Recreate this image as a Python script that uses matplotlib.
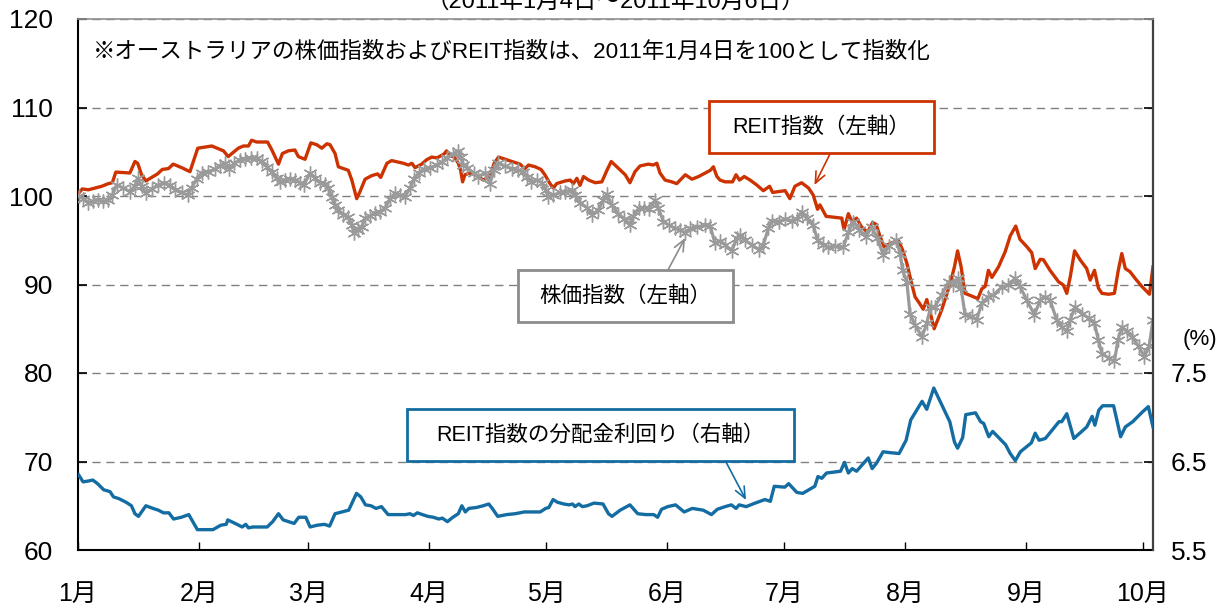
import matplotlib
matplotlib.use("Agg")
import matplotlib.pyplot as plt
from matplotlib.patches import Rectangle

plt.rcParams['font.family'] = ['Liberation Sans', 'Noto Sans CJK JP', 'DejaVu Sans']

# x = days counted from 1 Jan 2011 (position on the chart's date axis)
month_days = [0, 31, 59, 90, 120, 151, 181, 212, 243, 273]
month_labels = ['1月', '2月', '3月', '4月', '5月', '6月', '7月', '8月', '9月', '10月']

# REIT index (left axis, 2011/1/4 = 100)
reit = [
    (0.15, 100.3), (1.1, 100.8), (2.65, 100.7), (4.4, 100.9), (6.1, 101.1), (7.8, 101.4),
    (8.8, 101.5), (9.7, 102.7), (12.9, 102.6), (13.3, 102.6), (14.6, 103.9), (15.3, 103.7),
    (16.3, 102.4), (17.4, 101.7), (18.5, 102.0), (20.4, 102.5), (21.6, 103.0), (23.2, 103.1),
    (24.4, 103.6), (26.6, 103.2), (28.7, 102.75), (30.7, 105.4), (34.3, 105.65), (36.2, 105.3),
    (37.3, 105.1), (38.5, 104.45), (41.1, 105.4), (42.4, 105.65), (43.7, 105.65), (44.5, 106.3),
    (45.8, 106.1), (48.6, 106.1), (49.7, 105.2), (51.4, 103.6), (52.4, 104.8), (53.9, 105.1),
    (55.6, 105.2), (56.5, 104.45), (58.2, 104.15), (59.7, 106.0), (61.2, 105.8), (62.5, 105.4),
    (63.8, 105.9), (64.6, 105.8), (65.9, 104.8), (66.75, 103.3), (69.3, 102.9), (70.2, 101.8),
    (71.45, 99.7), (72.3, 100.5), (73.6, 101.9), (75.3, 102.3), (76.8, 102.5), (77.6, 102.1),
    (79.2, 103.7), (80.4, 104.0), (83.4, 103.7), (84.7, 103.5), (85.6, 103.7), (86.4, 103.2),
    (88.1, 103.6), (89.4, 104.1), (90.7, 104.4), (92.0, 104.3), (92.8, 104.5), (93.85, 104.75),
    (94.5, 105.1), (95.4, 104.5), (96.4, 104.45), (97.5, 103.7), (98.1, 102.9), (98.6, 101.6),
    (99.2, 102.4), (100.5, 102.6), (102.2, 102.3), (103.9, 101.8), (105.6, 102.2), (106.7, 103.7),
    (107.8, 104.4), (109.5, 104.15), (111.2, 103.9), (113.3, 103.6), (114.6, 103.1), (115.5, 103.5),
    (117.2, 103.3), (118.7, 103.0), (119.7, 102.4), (121.0, 101.4), (121.9, 100.9), (122.7, 101.4),
    (124.9, 101.7), (126.2, 101.8), (127.0, 101.4), (127.9, 102.0), (128.7, 101.2), (129.6, 102.2),
    (130.9, 101.8), (132.6, 101.5), (134.3, 101.6), (135.6, 102.9), (136.7, 103.9), (138.6, 103.1),
    (140.3, 102.4), (141.5, 101.5), (142.8, 102.75), (144.1, 103.4), (146.2, 103.6), (147.5, 103.5),
    (148.4, 103.7), (149.2, 102.6), (150.5, 101.8), (152.2, 101.6), (153.5, 101.4), (154.6, 101.9),
    (155.7, 102.4), (157.4, 101.9), (159.1, 102.2), (160.8, 102.6), (162.1, 102.9), (162.9, 103.3),
    (163.8, 102.2), (164.6, 101.8), (165.9, 101.6), (167.8, 101.6), (168.7, 102.4), (169.6, 101.8),
    (170.8, 102.2), (172.3, 101.8), (174.0, 101.25), (175.7, 100.6), (177.3, 101.1), (178.1, 100.4),
    (179.6, 100.5), (181.3, 100.6), (182.5, 99.7), (183.8, 101.1), (185.5, 101.5), (187.3, 100.9),
    (188.5, 100.1), (189.6, 98.5), (190.2, 99.0), (191.8, 97.7), (193.7, 97.6), (195.8, 97.5),
    (196.4, 96.2), (197.5, 98.0), (198.4, 97.1), (199.6, 97.5), (200.9, 96.5), (202.4, 95.9),
    (203.7, 97.0), (204.6, 96.8), (205.5, 95.6), (206.6, 94.3), (208.6, 94.7), (210.3, 95.0),
    (211.4, 93.9), (212.5, 92.4), (213.5, 90.5), (214.6, 88.6), (215.7, 87.9), (216.7, 87.2),
    (217.6, 88.3), (218.5, 86.8), (219.5, 85.0), (221.4, 87.1), (223.6, 90.1), (224.7, 92.0),
    (225.5, 93.8), (226.4, 92.0), (227.4, 89.0), (229.1, 88.7), (230.7, 88.4), (231.7, 89.5),
    (232.6, 89.8), (233.4, 91.6), (234.3, 90.8), (236.0, 92.0), (237.7, 93.7), (239.0, 95.5),
    (240.4, 96.6), (241.5, 95.1), (243.2, 94.3), (244.5, 93.6), (245.4, 91.8), (246.7, 92.85),
    (247.5, 92.8), (249.2, 91.6), (251.4, 90.3), (252.6, 89.95), (253.5, 89.0), (254.4, 90.9),
    (255.5, 93.8), (256.9, 92.8), (258.6, 91.8), (259.5, 90.5), (260.6, 91.6), (261.6, 89.6),
    (262.5, 89.0), (264.2, 88.9), (265.7, 89.0), (266.7, 91.6), (267.6, 93.5), (268.5, 91.8),
    (269.7, 91.45), (271.0, 90.7), (272.7, 89.8), (274.7, 88.9), (275.6, 92.0),
]

# stock index (left axis, 2011/1/4 = 100)
stock = [
    (0.15, 100.0), (1.4, 99.7), (2.65, 99.25), (3.9, 99.4), (5.2, 99.5), (6.5, 99.4),
    (7.8, 99.5), (8.8, 100.1), (9.9, 101.25), (11.6, 100.9), (13.3, 100.5), (14.6, 101.1),
    (15.3, 102.0), (16.3, 101.1), (17.35, 100.3), (18.9, 100.8), (20.6, 101.25), (22.1, 101.5),
    (23.6, 101.25), (24.9, 100.7), (26.6, 100.4), (28.1, 100.1), (29.1, 100.9), (30.4, 101.9),
    (31.7, 102.6), (33.4, 102.75), (35.0, 103.0), (36.4, 103.4), (37.7, 103.7), (38.7, 103.1),
    (40.1, 103.7), (41.5, 104.1), (42.8, 104.15), (44.4, 104.3), (45.8, 104.3), (47.1, 103.9),
    (48.4, 103.3), (49.7, 102.75), (51.0, 102.0), (51.8, 101.6), (53.1, 101.8), (54.4, 101.9),
    (55.6, 101.8), (56.9, 101.5), (57.9, 101.25), (59.5, 102.6), (60.8, 102.0), (62.1, 101.5),
    (63.3, 101.4), (64.2, 100.9), (65.0, 99.9), (65.9, 99.0), (66.75, 98.4), (68.0, 97.9),
    (69.3, 97.6), (70.2, 96.7), (70.8, 95.8), (71.9, 96.2), (72.7, 96.5), (73.6, 97.5),
    (74.9, 97.7), (76.2, 98.1), (77.4, 98.2), (78.7, 98.6), (80.0, 99.7), (81.3, 100.3),
    (82.6, 100.1), (83.8, 99.9), (85.1, 100.9), (86.2, 101.9), (87.3, 102.6), (88.6, 103.0),
    (90.3, 103.2), (92.0, 103.5), (93.3, 103.8), (94.5, 104.3), (96.2, 104.75), (97.5, 105.1),
    (98.1, 104.45), (98.8, 103.5), (99.8, 103.2), (101.4, 102.6), (102.6, 102.2), (104.4, 102.6),
    (105.6, 101.4), (106.7, 102.9), (107.8, 103.7), (109.5, 103.4), (111.2, 103.1), (112.9, 102.9),
    (114.2, 102.75), (115.1, 102.2), (116.2, 101.6), (117.6, 101.8), (118.9, 101.5), (119.9, 100.7),
    (120.6, 99.9), (121.9, 100.1), (123.6, 100.4), (124.9, 100.5), (126.6, 100.7), (127.4, 100.1),
    (128.7, 99.25), (130.4, 98.7), (131.9, 97.9), (133.4, 98.4), (134.7, 99.55), (135.6, 100.2),
    (136.8, 99.0), (138.5, 98.0), (140.1, 97.4), (141.5, 96.7), (142.4, 97.7), (143.7, 98.6),
    (145.2, 98.7), (146.4, 98.5), (147.9, 99.5), (148.8, 98.6), (150.1, 97.1), (151.5, 96.7),
    (153.1, 96.35), (154.4, 96.2), (155.6, 95.8), (156.9, 96.35), (158.6, 96.5), (160.8, 96.7),
    (162.1, 96.6), (163.3, 94.65), (164.6, 94.9), (165.9, 94.5), (167.6, 93.8), (168.9, 95.2),
    (169.7, 95.6), (171.0, 95.0), (172.7, 94.5), (174.7, 93.9), (175.7, 94.5), (177.0, 96.35),
    (177.8, 97.2), (179.6, 97.1), (181.3, 97.4), (183.0, 97.2), (184.3, 97.4), (185.5, 98.2),
    (186.8, 97.5), (188.5, 96.7), (189.6, 95.0), (190.9, 94.5), (192.4, 94.2), (194.1, 94.3),
    (196.2, 94.2), (197.5, 95.9), (198.8, 97.1), (200.3, 96.2), (202.0, 95.4), (203.5, 96.5),
    (204.9, 95.2), (206.5, 93.3), (207.8, 94.3), (209.7, 95.0), (210.8, 93.5), (211.4, 91.6),
    (212.5, 90.3), (213.3, 86.7), (214.6, 85.4), (216.4, 84.1), (217.6, 85.6), (218.6, 87.5),
    (219.7, 87.5), (221.4, 88.8), (223.2, 90.3), (224.4, 89.95), (225.6, 90.7), (226.4, 89.6),
    (227.4, 86.6), (229.1, 86.4), (230.4, 86.0), (231.7, 87.9), (233.4, 88.6), (234.7, 88.8),
    (236.8, 89.7), (238.5, 89.95), (240.3, 90.7), (241.5, 89.8), (243.2, 88.25), (245.2, 86.6),
    (246.7, 88.25), (247.9, 88.6), (249.2, 88.25), (250.9, 86.0), (252.2, 85.2), (253.5, 84.7),
    (254.4, 86.0), (255.6, 87.5), (257.4, 86.7), (259.1, 86.2), (260.6, 85.6), (261.6, 83.7),
    (262.5, 82.2), (264.2, 81.7), (265.7, 81.3), (266.6, 83.7), (267.6, 85.2), (268.9, 84.7),
    (270.2, 84.1), (271.9, 83.0), (273.4, 81.85), (274.6, 83.0), (275.6, 86.0),
]

# REIT dividend yield, % (right axis)
yield_pct = [
    (0.15, 6.35), (1.3, 6.27), (2.7, 6.28), (3.8, 6.29), (5.0, 6.25), (6.6, 6.18), (8.2, 6.16),
    (9.1, 6.10), (10.5, 6.08), (12.3, 6.04), (13.7, 6.00), (14.6, 5.91), (15.5, 5.88), (17.4, 6.00),
    (19.2, 5.97), (20.6, 5.95), (21.9, 5.92), (23.3, 5.92), (24.5, 5.85), (26.5, 5.87), (28.4, 5.90),
    (30.6, 5.73), (32.5, 5.73), (34.6, 5.73), (36.6, 5.78), (38.0, 5.79), (38.4, 5.84), (40.3, 5.80),
    (42.1, 5.76), (43.0, 5.79), (43.7, 5.75), (44.8, 5.76), (46.7, 5.76), (48.5, 5.76), (49.9, 5.82),
    (51.4, 5.91), (52.6, 5.84), (54.0, 5.82), (55.4, 5.80), (56.6, 5.87), (58.4, 5.87), (59.5, 5.76),
    (61.3, 5.78), (63.2, 5.79), (64.5, 5.77), (65.9, 5.91), (67.7, 5.93), (69.4, 5.95), (71.4, 6.14),
    (72.5, 6.10), (73.7, 6.01), (75.1, 6.00), (76.4, 5.97), (77.8, 5.99), (79.5, 5.90), (81.9, 5.90),
    (84.0, 5.90), (85.1, 5.91), (86.0, 5.89), (87.0, 5.92), (88.3, 5.90), (89.7, 5.88), (91.1, 5.87),
    (92.5, 5.85), (93.4, 5.86), (94.7, 5.82), (96.1, 5.87), (97.5, 5.91), (98.4, 6.00), (99.3, 5.93),
    (100.2, 5.97), (102.1, 5.98), (103.9, 6.00), (105.3, 6.02), (106.2, 5.97), (107.6, 5.88),
    (109.9, 5.90), (112.1, 5.91), (114.4, 5.93), (116.3, 5.93), (118.5, 5.93), (119.9, 5.97),
    (120.7, 5.98), (121.8, 6.07), (122.9, 6.04), (124.5, 6.02), (125.9, 6.01), (126.8, 6.02),
    (127.4, 5.99), (128.4, 6.02), (129.3, 5.99), (130.5, 6.00), (132.3, 6.03), (134.6, 6.02),
    (136.0, 5.91), (136.9, 5.88), (139.0, 5.95), (141.5, 6.01), (143.5, 5.91), (145.6, 5.90),
    (147.6, 5.90), (148.6, 5.87), (149.6, 5.96), (151.2, 5.99), (153.2, 6.01), (155.4, 5.93),
    (157.5, 5.97), (160.3, 5.95), (162.4, 5.90), (163.9, 5.96), (165.9, 5.99), (167.5, 6.01),
    (168.7, 5.97), (169.5, 6.01), (171.3, 5.99), (173.6, 6.03), (176.1, 6.07), (177.5, 6.05),
    (178.5, 6.22), (181.2, 6.21), (182.2, 6.25), (184.3, 6.15), (185.8, 6.14), (188.9, 6.22),
    (189.7, 6.33), (190.7, 6.31), (191.9, 6.37), (195.5, 6.39), (196.5, 6.49), (197.5, 6.37),
    (198.5, 6.42), (199.6, 6.39), (202.6, 6.54), (203.6, 6.42), (204.7, 6.48), (206.4, 6.61),
    (208.2, 6.60), (210.5, 6.59), (212.3, 6.74), (213.5, 6.97), (216.4, 7.18), (217.6, 7.09),
    (219.4, 7.33), (223.5, 6.95), (224.7, 6.72), (225.5, 6.65), (226.8, 6.77), (227.6, 7.03),
    (230.1, 7.05), (231.4, 6.95), (232.2, 6.93), (233.5, 6.78), (234.5, 6.84), (237.8, 6.69),
    (239.0, 6.59), (240.3, 6.51), (241.6, 6.61), (244.4, 6.71), (245.4, 6.82), (246.4, 6.74),
    (248.0, 6.76), (251.5, 6.95), (252.2, 6.95), (253.5, 7.04), (255.3, 6.76), (258.6, 6.89),
    (260.0, 7.01), (260.7, 6.91), (261.7, 7.08), (262.7, 7.13), (265.5, 7.13), (267.3, 6.78),
    (268.5, 6.89), (270.4, 6.95), (272.9, 7.06), (274.4, 7.12), (275.6, 6.89),
]

left_ticks = [60, 70, 80, 90, 100, 110, 120]
right_ticks = [5.5, 6.5, 7.5, 8.5, 9.5, 10.5, 11.5]

RED = '#CC3300'
GREY = '#9A9A9A'
BLUE = '#136CA2'

fig = plt.figure(figsize=(12.23, 6.06), dpi=100)
ax = fig.add_axes([78 / 1223, 56 / 606, 1075 / 1223, 531 / 606])
ax2 = ax.twinx()

d, v = zip(*reit)
ax.plot(d, v, color=RED, lw=2.4, zorder=3)
d, v = zip(*stock)
ax.plot(d, v, color=GREY, lw=2.3, marker=(6, 2, 0), ms=10, mew=1.0,
        mec=GREY, zorder=4)
d, v = zip(*yield_pct)
ax2.plot(d, v, color=BLUE, lw=2.4, zorder=3)

ax.set_xlim(0, 275.6)
ax.set_ylim(60, 120)
ax2.set_ylim(5.5, 11.5)

ax.set_yticks(left_ticks)
ax.set_yticklabels([str(t) for t in left_ticks])
ax2.set_yticks(right_ticks)
ax2.set_yticklabels([f'{t:.1f}' if t <= 7.5 else '' for t in right_ticks])
ax.set_xticks(month_days)
ax.set_xticklabels(month_labels)

ax.yaxis.grid(True, color='#808080', lw=1.0, ls=(0, (6, 4)))
ax.set_axisbelow(True)

ax.tick_params(axis='y', direction='in', length=6.5, width=1.2, labelsize=19, pad=18)
ax.tick_params(axis='x', direction='in', length=6, width=1.0, labelsize=18, pad=23)
ax2.tick_params(axis='y', direction='in', length=6.5, width=1.2, labelsize=19, pad=13,
                colors='black')

for s in ['top', 'right']:
    ax.spines[s].set_visible(False)
for s in ['left', 'bottom']:
    ax2.spines[s].set_visible(False)
    ax.spines[s].set_linewidth(1.5)
ax2.spines['top'].set_color('#909090')
ax2.spines['top'].set_linewidth(1.2)
ax2.spines['right'].set_color('#404040')
ax2.spines['right'].set_linewidth(1.6)

# period (cut at the top edge as in the source), note and unit
fig.text(616 / 1223, 1 - 8 / 606, '（2011年1月4日～2011年10月6日）', ha='center',
         va='baseline', fontsize=17)
ax.text(0.014, 0.938, '※オーストラリアの株価指数およびREIT指数は、2011年1月4日を100として指数化',
        transform=ax.transAxes, ha='left', va='center', fontsize=16.2)
fig.text(1200 / 1223, 1 - 340 / 606, '(%)', ha='center', va='center', fontsize=16)

# labelled boxes with arrows
boxes = [
    ('REIT指数（左軸）', RED, (0.587, 0.7476, 0.2093, 0.098), (0.6995, 0.7458), (0.6851, 0.6874)),
    ('株価指数（左軸）', '#8C8C8C', (0.4093, 0.4294, 0.2, 0.098), (0.5488, 0.5273), (0.5647, 0.5876)),
    ('REIT指数の分配金利回り（右軸）', BLUE, (0.306, 0.1676, 0.36, 0.098), (0.6028, 0.1657), (0.6214, 0.0942)),
]
for label, col, (x0, y0, w, h), start, tip in boxes:
    ax2.add_patch(Rectangle((x0, y0), w, h, transform=ax2.transAxes, facecolor='white',
                            edgecolor=col, lw=2.0, zorder=10))
    ax2.text(x0 + w / 2, y0 + h / 2, label, transform=ax2.transAxes, ha='center',
             va='center', fontsize=15.5, zorder=11)
    ax2.annotate('', xy=tip, xytext=start, xycoords='axes fraction', textcoords='axes fraction',
                 arrowprops=dict(arrowstyle='->,head_length=0.8,head_width=0.35', color=col,
                                 lw=1.2, shrinkA=0, shrinkB=0), zorder=11)

fig.savefig('out.png', dpi=100)
